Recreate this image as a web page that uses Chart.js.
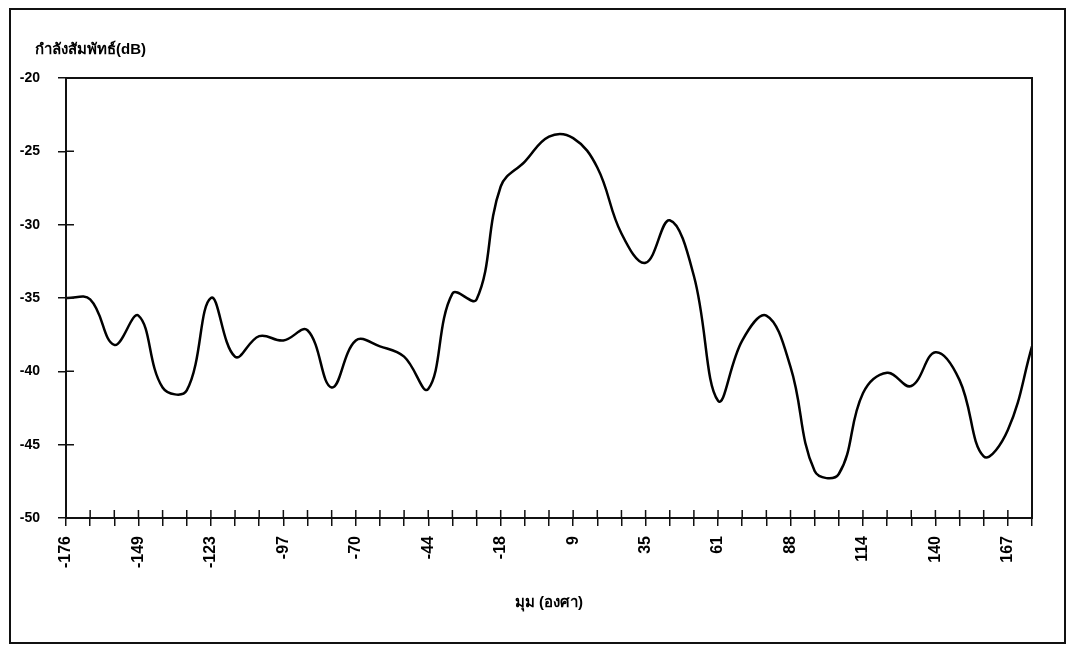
<!DOCTYPE html>
<html>
<head>
<meta charset="utf-8">
<script src="https://cdn.jsdelivr.net/npm/chart.js@4"></script>
<style>
  html, body { margin: 0; padding: 0; background: #fff; }
  #wrap { position: relative; width: 1074px; height: 648px; }
  #frame { position: absolute; left: 9px; top: 8px; width: 1057px; height: 636px; border: 2px solid #111; box-sizing: border-box; pointer-events: none; }
</style>
</head>
<body>
<div id="wrap">
  <canvas id="chart" width="1074" height="648"></canvas>
  <div id="frame"></div>
</div>
<script>
// angle categories (degrees)
const angles = [-176, -167, -158, -149, -141, -132, -123, -114, -105, -97,
                -88, -79, -70, -61, -53, -44, -35, -26, -18, -9,
                0, 9, 18, 26, 35, 44, 53, 61, 70, 79,
                88, 97, 105, 114, 123, 132, 140, 149, 158, 167, 176];

// relative power (dB)
const powerDb = [-35.0, -35.1, -38.2, -36.2, -41.1, -41.3, -35.0, -39.0, -37.6, -37.9,
                 -37.2, -41.1, -37.9, -38.3, -39.0, -41.2, -34.7, -35.1, -27.4, -25.7,
                 -24.0, -24.1, -26.1, -30.6, -32.6, -29.7, -33.5, -42.0, -37.9, -36.2,
                 -39.7, -46.8, -47.0, -41.5, -40.1, -41.0, -38.7, -40.6, -45.8, -44.0, -38.3];

const yTitle = 'กำลังสัมพัทธ์(dB)';
const xTitle = 'มุม (องศา)';

const FONT = "'Liberation Sans', Arial, sans-serif";

// box around plot + inner half of cross tick marks, and nudge the y title
const plotFrame = {
  id: 'plotFrame',
  afterLayout(chart) {
    if (chart.titleBlock) chart.titleBlock.left = 35;
  },
  afterDraw(chart) {
    const { ctx, chartArea: a, scales } = chart;
    ctx.save();
    ctx.strokeStyle = '#111';
    ctx.lineWidth = 2;
    ctx.strokeRect(a.left, a.top, a.right - a.left, a.bottom - a.top);
    ctx.beginPath();
    scales.x.ticks.forEach((t, i) => {
      const px = scales.x.getPixelForTick(i);
      ctx.moveTo(px, a.bottom);
      ctx.lineTo(px, a.bottom - 8);
    });
    scales.y.ticks.forEach((t, i) => {
      const py = scales.y.getPixelForTick(i);
      ctx.moveTo(a.left, py);
      ctx.lineTo(a.left + 8, py);
    });
    ctx.lineWidth = 1.5;
    ctx.stroke();
    ctx.restore();
  }
};

new Chart(document.getElementById('chart'), {
  type: 'line',
  data: {
    labels: angles,
    datasets: [{
      data: powerDb,
      borderColor: '#000',
      borderWidth: 2.5,
      pointRadius: 0,
      tension: 0.4,
      fill: false
    }]
  },
  options: {
    responsive: false,
    animation: false,
    layout: { padding: { left: 16, top: 38, right: 42, bottom: 0 } },
    plugins: {
      legend: { display: false },
      tooltip: { enabled: false },
      title: {
        display: true,
        text: yTitle,
        align: 'start',
        color: '#000',
        font: { family: FONT, size: 15, weight: 'bold' },
        padding: { top: 3, bottom: 19 }
      }
    },
    scales: {
      x: {
        offset: false,
        afterFit: s => { s.height = 130; },
        grid: { display: true, drawOnChartArea: false, drawTicks: true, tickLength: 8, color: '#111', lineWidth: 1.5 },
        border: { display: true, color: '#111', width: 2 },
        ticks: {
          autoSkip: false,
          maxRotation: 90,
          minRotation: 90,
          padding: 10,
          color: '#000',
          font: { family: FONT, size: 16, weight: 'bold' },
          callback: function (val, i) { return i % 3 === 0 ? this.getLabelForValue(val) : ''; }
        },
        title: {
          display: true,
          text: xTitle,
          color: '#000',
          font: { family: FONT, size: 15, weight: 'bold' },
          padding: { top: 0, bottom: 36 }
        }
      },
      y: {
        min: -50,
        max: -20,
        afterFit: s => { s.width = 50; },
        grid: { display: true, drawOnChartArea: false, drawTicks: true, tickLength: 8, color: '#111', lineWidth: 1.5 },
        border: { display: true, color: '#111', width: 2 },
        ticks: {
          stepSize: 5,
          padding: 18,
          color: '#000',
          font: { family: FONT, size: 14, weight: 'bold' }
        }
      }
    }
  },
  plugins: [plotFrame]
});
</script>
</body>
</html>
